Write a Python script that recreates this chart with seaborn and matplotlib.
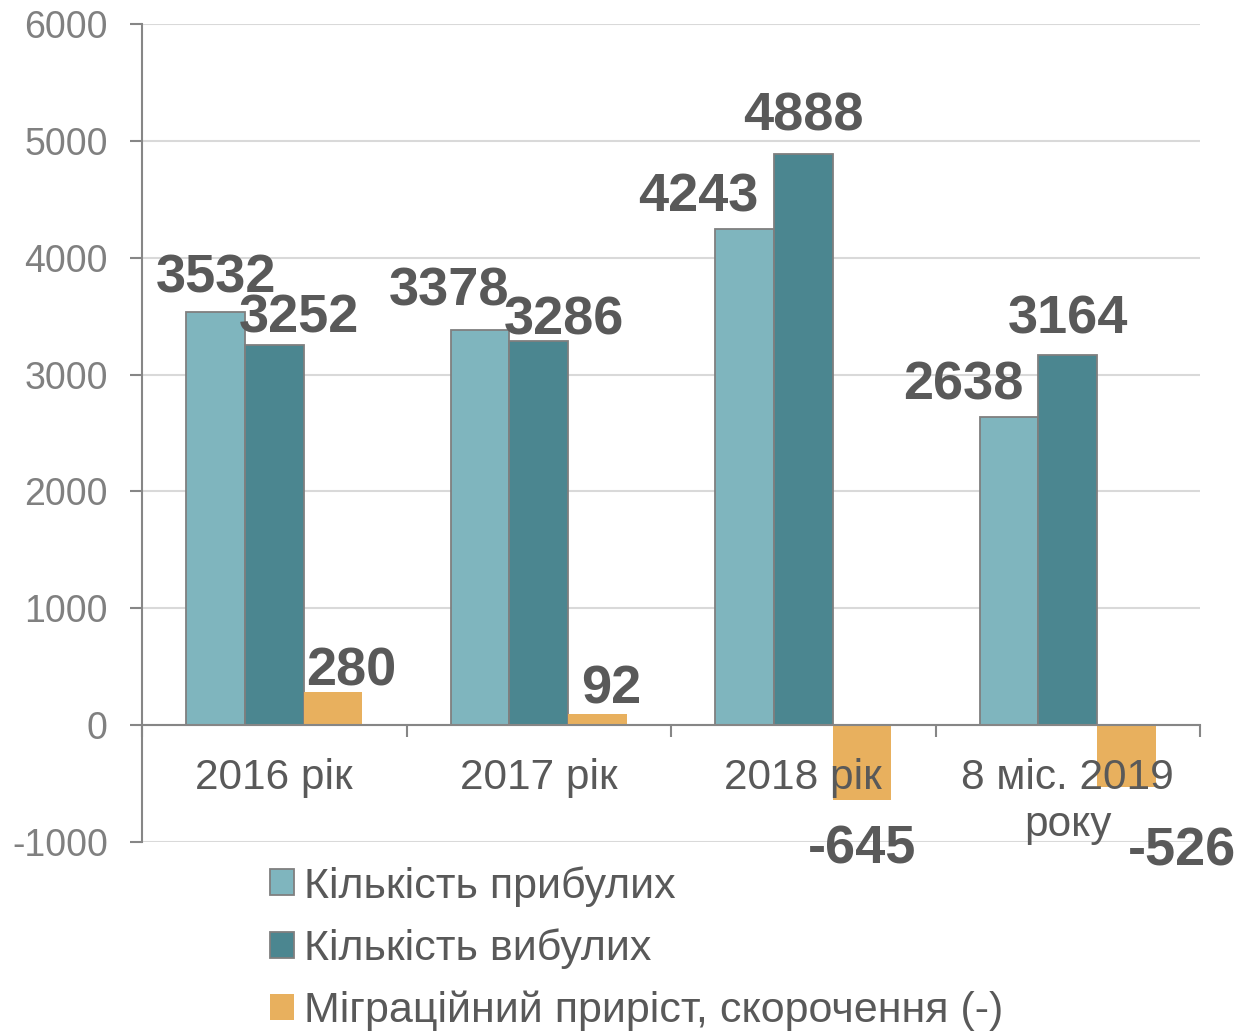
import numpy as np
import pandas as pd
import seaborn as sns
import matplotlib.pyplot as plt
from matplotlib.patches import Patch

# data
periods = ["2016 рік", "2017 рік", "2018 рік", "8 міс. 2019\nроку"]
series = ["Кількість прибулих", "Кількість вибулих", "Міграційний приріст, скорочення (-)"]
arrived = [3532, 3378, 4243, 2638]
departed = [3252, 3286, 4888, 3164]
net = [280, 92, -645, -526]

colors = ["#7fb5be", "#4b8690", "#e8b05e"]
txt = "#595959"

# label nudges in pixels (labels were hand placed in the original)
nudges = [
    [(0, 20), (-31, 25), (-46, 18), (-46, 17)],
    [(25, 13), (25, 7), (0, 23), (0, 22)],
    [(18, 7), (14, 11), (0, -63), (56, -79)],
]

df = pd.DataFrame({
    "period": periods * 3,
    "series": np.repeat(series, 4),
    "value": arrived + departed + net,
})

sns.set_style("white")
plt.rcParams["font.family"] = ["Liberation Sans", "DejaVu Sans"]
plt.rcParams["axes.unicode_minus"] = False

fig = plt.figure(figsize=(12.49, 10.35), dpi=100)
ax = fig.add_axes([0.1137, 0.1865, 0.8471, 0.7903])

sns.barplot(data=df, x="period", y="value", hue="series", order=periods,
            hue_order=series, palette=colors, saturation=1, width=0.665,
            ax=ax, legend=False)

for i, cont in enumerate(ax.containers):
    for j, bar in enumerate(cont):
        if i < 2:
            bar.set_edgecolor("#7f7f7f")
            bar.set_linewidth(1.3)
        else:
            bar.set_edgecolor("none")
        v = [arrived, departed, net][i][j]
        ax.annotate(str(v), (bar.get_x() + bar.get_width() / 2, v),
                    xytext=nudges[i][j], textcoords="offset pixels",
                    ha="center", va="baseline", fontsize=39, fontweight="bold",
                    color=txt, annotation_clip=False)

ax.set_xlim(-0.5, 3.5)
ax.set_ylim(-1000, 6000)
ax.set_yticks(range(-1000, 6001, 1000))
ax.set_xlabel("")
ax.set_ylabel("")

sns.despine(ax=ax, top=True, right=True)
ax.spines["bottom"].set_position(("data", 0))
ax.spines["bottom"].set_color("#868686")
ax.spines["bottom"].set_linewidth(1.5)
ax.spines["left"].set_color("#868686")
ax.spines["left"].set_linewidth(1.5)

ax.yaxis.grid(True, color="#d9d9d9", linewidth=1.5)
ax.set_axisbelow(True)
ax.xaxis.set_zorder(2.5)

ax.tick_params(axis="y", direction="out", length=8.6, width=1.5, color="#868686",
               labelsize=27, labelcolor="#808080", pad=16, left=True)
ax.set_xticks(range(len(periods)))
ax.set_xticklabels(periods)
ax.set_xticks(np.arange(-0.5, 4, 1), minor=True)
ax.tick_params(axis="x", which="major", length=0, labelsize=30.5, labelcolor=txt, pad=24)
ax.tick_params(axis="x", which="minor", direction="out", length=8.6, width=1.5,
               color="#868686", bottom=True)

handles = [Patch(facecolor=colors[0], edgecolor="#7f7f7f", linewidth=1.3),
           Patch(facecolor=colors[1], edgecolor="#7f7f7f", linewidth=1.3),
           Patch(facecolor=colors[2], edgecolor="none")]
fig.legend(handles, series, loc="upper left", bbox_to_anchor=(270 / 1249, 1 - 866 / 1035),
           frameon=False, fontsize=31, labelcolor=txt, handlelength=0.55,
           handleheight=0.55, handletextpad=0.25, labelspacing=0.5,
           borderpad=0, borderaxespad=0)

fig.savefig("out.png", dpi=100)
